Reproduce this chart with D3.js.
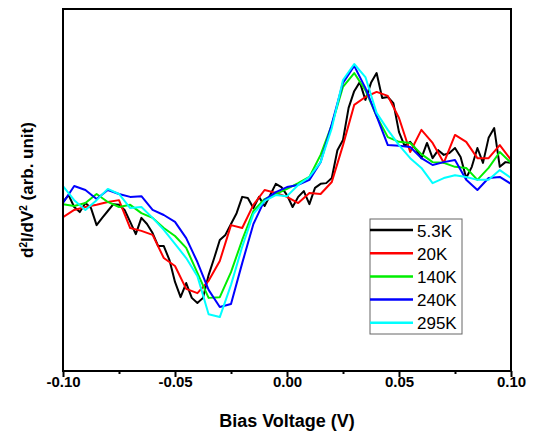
<!DOCTYPE html>
<html>
<head>
<meta charset="utf-8">
<script src="https://cdn.jsdelivr.net/npm/d3@7"></script>
<style>
  body { margin: 0; background: #fff; }
  svg { display: block; font-family: Arial, "Liberation Sans", sans-serif; }
</style>
</head>
<body>
<div id="chart"></div>
<script>
// bias voltage grids (V)
var biasCoarse = [-0.1, -0.095, -0.09, -0.085, -0.08, -0.075, -0.07, -0.065, -0.06, -0.055,
  -0.05, -0.045, -0.04, -0.035, -0.03, -0.025, -0.02, -0.015, -0.01, -0.005,
  0, 0.005, 0.01, 0.015, 0.02, 0.025, 0.03, 0.035, 0.04, 0.045,
  0.05, 0.055, 0.06, 0.065, 0.07, 0.075, 0.08, 0.085, 0.09, 0.095, 0.1];

var biasFine = [-0.1, -0.0975, -0.095, -0.0925, -0.09, -0.0875, -0.085, -0.0825, -0.08, -0.0775,
  -0.075, -0.0725, -0.07, -0.0675, -0.065, -0.0625, -0.06, -0.0575, -0.055, -0.0525,
  -0.05, -0.0475, -0.045, -0.0425, -0.04, -0.0375, -0.035, -0.0325, -0.03, -0.0275,
  -0.025, -0.0225, -0.02, -0.0175, -0.015, -0.0125, -0.01, -0.0075, -0.005, -0.0025,
  0, 0.0025, 0.005, 0.0075, 0.01, 0.0125, 0.015, 0.0175, 0.02, 0.0225,
  0.025, 0.0275, 0.03, 0.0325, 0.035, 0.0375, 0.04, 0.0425, 0.045, 0.0475,
  0.05, 0.0525, 0.055, 0.0575, 0.06, 0.0625, 0.065, 0.0675, 0.07, 0.0725,
  0.075, 0.0775, 0.08, 0.0825, 0.085, 0.0875, 0.09, 0.0925, 0.095, 0.0975, 0.1];

// d2I/dV2, arbitrary units
var k5_3 = [46.7, 48.6, 45.3, 43.9, 46.4, 45.0, 40.3, 42.3, 44.2, 46.1,
  45.9, 44.5, 41.2, 37.8, 42.3, 40.6, 38.1, 34.5, 34.5, 30.7,
  24.6, 20.4, 24.3, 20.2, 18.8, 20.2, 26.5, 31.2, 36.2, 37.6,
  40.6, 43.6, 48.1, 47.8, 45.0, 48.1, 45.6, 48.6, 51.7, 50.8,
  48.6, 45.3, 48.1, 49.7, 46.1, 50.6, 51.7, 51.9, 53.3, 61.0,
  63.8, 72.7, 77.3, 79.8, 74.9, 79.6, 82.3, 75.4, 75.7, 74.0,
  66.0, 62.2, 63.3, 61.3, 58.8, 63.0, 58.8, 61.0, 59.7, 60.2,
  61.6, 59.1, 53.3, 56.4, 61.6, 57.5, 64.4, 67.1, 56.4, 57.7, 57.5];

var k20 = [42.5, 44.5, 45.3, 45.9, 46.7, 47.2, 39.5, 38.7, 37.6, 31.2,
  29.0, 22.7, 21.5, 24.9, 30.4, 40.3, 39.5, 45.9, 50.0, 49.2,
  48.1, 46.4, 49.2, 48.9, 52.2, 62.4, 73.5, 75.7, 77.1, 76.0,
  69.9, 60.5, 66.6, 63.0, 57.5, 65.2, 63.3, 58.8, 58.8, 62.4, 58.3];

var k140 = [46.1, 45.6, 46.4, 48.9, 46.7, 45.3, 45.9, 43.6, 42.3, 39.5,
  37.3, 34.0, 27.1, 20.2, 20.4, 27.3, 36.2, 44.2, 47.5, 48.9,
  50.3, 51.9, 53.6, 59.7, 68.0, 78.5, 82.3, 77.6, 70.4, 64.6,
  63.3, 63.0, 59.9, 57.7, 57.5, 56.4, 56.1, 52.8, 56.1, 60.5, 57.5];

var k240 = [46.4, 51.1, 50.0, 47.5, 50.0, 48.9, 48.1, 48.3, 44.5, 43.1,
  41.2, 36.7, 30.1, 22.4, 17.7, 18.5, 29.8, 40.6, 47.2, 49.4,
  50.8, 51.4, 52.8, 57.7, 68.2, 79.6, 84.3, 78.2, 70.4, 62.4,
  62.2, 61.9, 58.8, 56.9, 57.7, 58.3, 52.8, 50.0, 53.3, 53.6, 51.7];

var k295 = [51.1, 47.2, 44.5, 47.2, 50.3, 48.9, 45.0, 45.3, 42.3, 39.0,
  35.1, 31.2, 26.2, 15.7, 14.9, 23.8, 34.3, 43.4, 47.0, 48.6,
  48.3, 51.4, 53.6, 57.7, 67.1, 80.4, 84.8, 81.2, 71.3, 66.6,
  62.4, 58.8, 56.1, 51.9, 53.3, 54.1, 53.6, 52.8, 52.8, 55.5, 53.3];

var seriesNames = ["5.3K", "20K", "140K", "240K", "295K"];
var majorTicks = [-0.1, -0.05, 0, 0.05, 0.1];
var minorTicks = [-0.075, -0.025, 0.025, 0.075];

var series = [
  {name: seriesNames[0], xs: biasFine, ys: k5_3, color: "#000000"},
  {name: seriesNames[1], xs: biasCoarse, ys: k20, color: "#ff0000"},
  {name: seriesNames[2], xs: biasCoarse, ys: k140, color: "#00ee00"},
  {name: seriesNames[3], xs: biasCoarse, ys: k240, color: "#0000ff"},
  {name: seriesNames[4], xs: biasCoarse, ys: k295, color: "#00ffff"}
];

var margin = {top: 9, right: 23, bottom: 66, left: 63};
var W = 534, H = 437;
var width = W - margin.left - margin.right;
var height = H - margin.top - margin.bottom;

var x = d3.scaleLinear().domain([-0.1, 0.1]).range([0, width]);
var y = d3.scaleLinear().domain([0, 100]).range([height, 0]);

var svg = d3.select("#chart").append("svg")
  .attr("width", W)
  .attr("height", H)
  .append("g")
  .attr("transform", "translate(" + margin.left + "," + margin.top + ")");

svg.append("clipPath").attr("id", "plotclip")
  .append("rect").attr("x", 0).attr("y", 0).attr("width", width).attr("height", height);

var line = d3.line()
  .x(function (d) { return x(d[0]); })
  .y(function (d) { return y(d[1]); });

svg.append("g").attr("clip-path", "url(#plotclip)")
  .selectAll(".curve")
  .data(series)
  .enter().append("path")
  .attr("class", "curve")
  .attr("fill", "none")
  .attr("stroke", function (d) { return d.color; })
  .attr("stroke-width", 2)
  .attr("stroke-linejoin", "round")
  .attr("d", function (d) {
    return line(d.xs.map(function (v, i) { return [v, d.ys[i]]; }));
  });

// frame
svg.append("rect")
  .attr("x", 0).attr("y", 0)
  .attr("width", width).attr("height", height)
  .attr("fill", "none")
  .attr("stroke", "#000")
  .attr("stroke-width", 2);

var xAxis = d3.axisBottom(x)
  .tickValues(majorTicks)
  .tickSize(6)
  .tickSizeOuter(0)
  .tickFormat(function (d) { return d.toFixed(2); });

var gx = svg.append("g")
  .attr("transform", "translate(0," + height + ")")
  .call(xAxis);
gx.select(".domain").remove();
gx.selectAll("line").attr("stroke-width", 2);
gx.selectAll("text")
  .attr("y", 5)
  .attr("dy", "0.71em")
  .style("font-size", "15px")
  .style("font-weight", "bold")
  .attr("fill", "#000");

var gxm = svg.append("g")
  .attr("transform", "translate(0," + height + ")")
  .call(d3.axisBottom(x).tickValues(minorTicks).tickSize(3).tickSizeOuter(0).tickFormat(""));
gxm.select(".domain").remove();
gxm.selectAll("line").attr("stroke-width", 2);

svg.append("text")
  .attr("x", width / 2)
  .attr("y", 418)
  .attr("text-anchor", "middle")
  .style("font-size", "18px")
  .style("font-weight", "bold")
  .text("Bias Voltage (V)");

var ylab = svg.append("text")
  .attr("transform", "translate(-30," + (height / 2) + ") rotate(-90)")
  .attr("text-anchor", "middle")
  .style("font-size", "17px")
  .style("font-weight", "bold");
ylab.append("tspan").text("d");
ylab.append("tspan").attr("dy", -6).style("font-size", "10px").text("2");
ylab.append("tspan").attr("dy", 6).text("I/dV");
ylab.append("tspan").attr("dy", -6).style("font-size", "10px").text("2");
ylab.append("tspan").attr("dy", 6).text(" (arb. unit)");

// legend
var legend = svg.append("g").attr("transform", "translate(307,210)");
legend.append("rect")
  .attr("x", 0).attr("y", 0)
  .attr("width", 92).attr("height", 115)
  .attr("fill", "#fff")
  .attr("stroke", "#666")
  .attr("stroke-width", 1);

var item = legend.selectAll(".item")
  .data(series)
  .enter().append("g")
  .attr("class", "item")
  .attr("transform", function (d, i) { return "translate(0," + (11 + i * 23.2) + ")"; });
item.append("line")
  .attr("x1", 0).attr("x2", 43)
  .attr("stroke", function (d) { return d.color; })
  .attr("stroke-width", 2.5);
item.append("text")
  .attr("x", 47)
  .attr("y", 6.5)
  .style("font-size", "17px")
  .text(function (d) { return d.name; });
</script>
</body>
</html>
